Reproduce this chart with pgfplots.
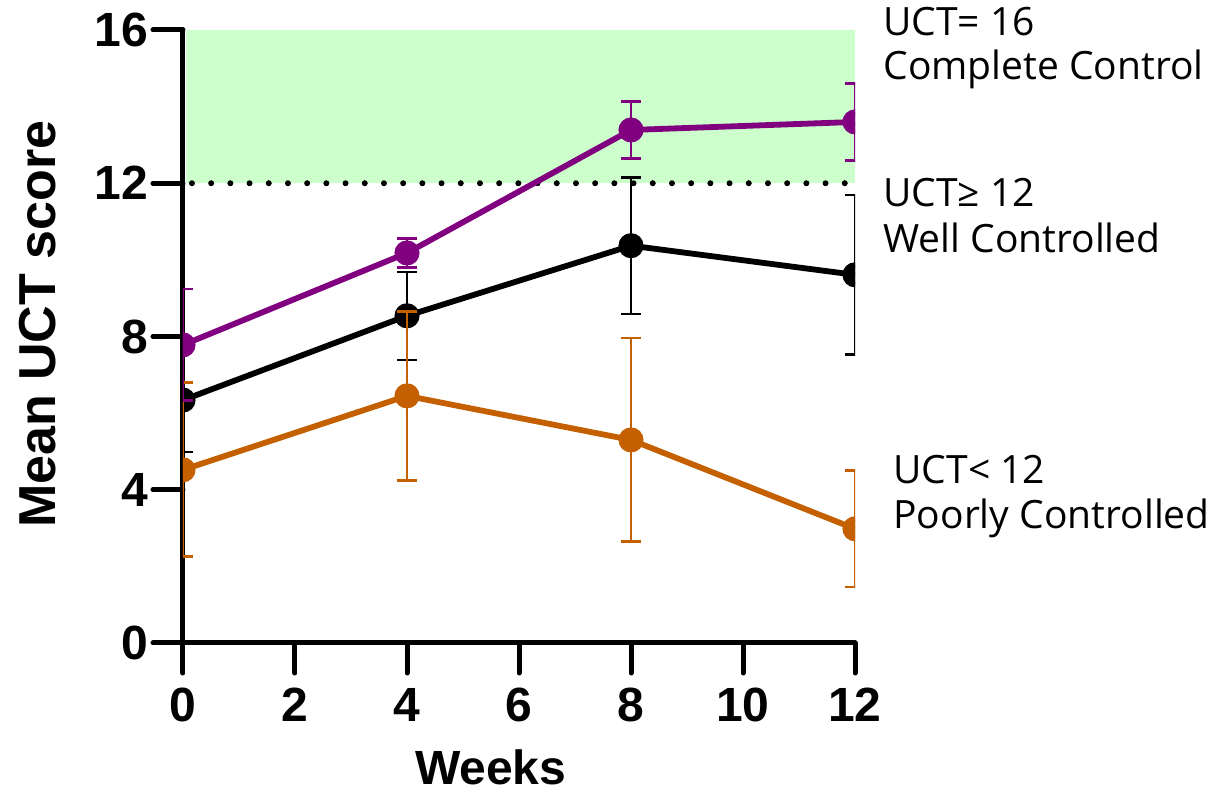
\documentclass[border=0pt]{standalone}
\usepackage{fontspec}
\setmainfont{Liberation Sans}
\newfontfamily\annfont{Open Sans}
\usepackage{pgfplots}
\pgfplotsset{compat=1.18}

\definecolor{uctpurple}{RGB}{128,0,128}
\definecolor{uctorange}{RGB}{197,96,0}
\definecolor{uctgreen}{RGB}{204,255,204}

% Mean UCT score with error bars (week, mean, error)
\pgfplotstableread{
x  y     e
0  6.34  1.35
4  8.54  1.15
8  10.37 1.78
12 9.61  2.08
}\wellTable
\pgfplotstableread{
x  y     e
0  7.78  1.46
4  10.18 0.37
8  13.39 0.75
12 13.60 1.01
}\completeTable
\pgfplotstableread{
x  y     e
0  4.52  2.27
4  6.45  2.20
8  5.30  2.66
12 2.98  1.52
}\poorTable

\begin{document}
\begin{tikzpicture}
\begin{axis}[
  scale only axis,
  width=336pt, height=306.5pt,
  xmin=0, xmax=12, ymin=0, ymax=16,
  axis x line=bottom, axis y line=left,
  axis line style={-, line width=2.5pt, line cap=round},
  xtick={0,2,...,12}, ytick={0,4,...,16},
  tick align=outside,
  major tick length=15pt,
  every tick/.style={black, line width=2.5pt, line cap=round},
  /pgf/number format/assume math mode=true,
  ticklabel style={font=\fontsize{24}{28}\selectfont\bfseries},
  xticklabel style={anchor=north, yshift=-4pt},
  yticklabel style={anchor=east, xshift=1pt},
  xlabel={Weeks},
  ylabel={Mean UCT score},
  xlabel style={font=\fontsize{24}{28}\selectfont\bfseries, at={(rel axis cs:0.458,-0.2316)}, anchor=base},
  ylabel style={font=\fontsize{26}{30}\selectfont\bfseries, at={(rel axis cs:-0.2158,0.52)}, anchor=center},
  clip mode=individual,
  clip marker paths=true,
  error bars/y dir=both, error bars/y explicit,
]
% complete-control zone and threshold
\addplot[draw=none, fill=uctgreen, forget plot] coordinates {(0.045,12) (12,12) (12,16) (0.045,16)} -- cycle;
\addplot[black, line width=3pt, line cap=round, dash pattern=on 0pt off 9.6pt, forget plot] coordinates {(0.16,12) (12,12)};

\addplot[black, line width=2.9pt, mark=*, mark size=4.8pt,
  error bars/error bar style={line width=1.2pt},
  error bars/error mark options={rotate=90, mark size=5pt, line width=1.2pt}]
  table[x=x, y=y, y error=e] {\wellTable};
\addplot[uctorange, line width=2.9pt, mark=*, mark size=4.8pt,
  error bars/error bar style={line width=1.4pt},
  error bars/error mark options={rotate=90, mark size=5pt, line width=1.4pt}]
  table[x=x, y=y, y error=e] {\poorTable};
\addplot[uctpurple, line width=2.9pt, mark=*, mark size=4.8pt,
  error bars/error bar style={line width=1.4pt},
  error bars/error mark options={rotate=90, mark size=5pt, line width=1.4pt}]
  table[x=x, y=y, y error=e] {\completeTable};

\coordinate (O) at (axis cs:0,0);
\begin{scope}[every node/.style={anchor=west, inner sep=0pt, font=\annfont\fontsize{19.5}{22}\selectfont}]
\node at (axis cs:12.5,16.21) {UCT= 16};
\node at (axis cs:12.5,14.96) {Complete Control};
\node at (axis cs:12.5,11.75) {UCT≥ 12};
\node at (axis cs:12.5,10.57) {Well Controlled};
\node at (axis cs:12.68,4.52) {UCT< 12};
\node at (axis cs:12.68,3.26) {Poorly Controlled};
\end{scope}
\end{axis}
\pgfresetboundingbox
\path[use as bounding box] ([shift={(-91.5pt,-76pt)}]O) rectangle ([shift={(513pt,321.5pt)}]O);
\end{tikzpicture}
\end{document}
